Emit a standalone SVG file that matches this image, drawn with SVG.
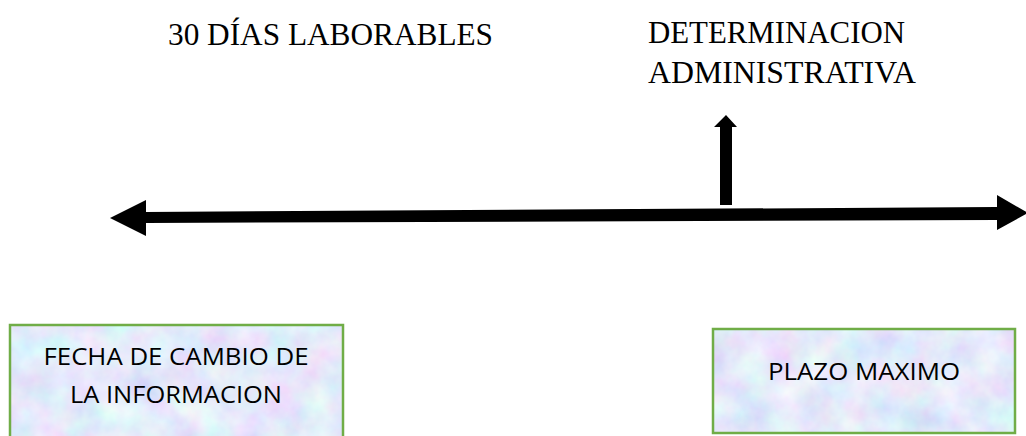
<svg xmlns="http://www.w3.org/2000/svg" width="1026" height="436" viewBox="0 0 1026 436">
  <style>
    .title { font-family: "Liberation Serif", "Times New Roman", serif; font-size: 31.5px; fill: #000; }
    .lbl { font-family: "Open Sans", "Liberation Sans", sans-serif; font-size: 24px; fill: #000; text-anchor: middle; }
    .box { stroke: #70AD47; stroke-width: 2.5; }
  </style>
  <defs>
    <filter id="tex" x="0" y="0" width="100%" height="100%">
      <feTurbulence type="fractalNoise" baseFrequency="0.03" numOctaves="4" seed="7" result="n"/>
      <feColorMatrix in="n" type="matrix" values="0.45 0 0 0 0.55  0 0.45 0 0 0.6  0 0 0.15 0 0.88  0 0 0 0 1"/>
    </filter>
    <clipPath id="c1"><rect x="10" y="325" width="333" height="111"/></clipPath>
    <clipPath id="c2"><rect x="713" y="329" width="302" height="104"/></clipPath>
  </defs>
  <rect width="1026" height="436" fill="#fff"/>

  <text class="title" x="168" y="45" textLength="325" lengthAdjust="spacingAndGlyphs">30 DÍAS LABORABLES</text>
  <text class="title" x="648" y="43" textLength="257" lengthAdjust="spacingAndGlyphs">DETERMINACION</text>
  <text class="title" x="648" y="83" textLength="268" lengthAdjust="spacingAndGlyphs">ADMINISTRATIVA</text>

  <g id="connectors">
    <polygon points="110,218 146,200 146,212 997,207 997,195 1028,213 997,230 997,220 146,223 146,236" fill="#000"/>
    <polygon points="720,205 720,127 714,127 726,115 737,127 732,127 732,205" fill="#000"/>
  </g>

  <g id="node-fecha">
    <g clip-path="url(#c1)"><rect x="10" y="325" width="333" height="111" fill="#CAD8F2" filter="url(#tex)"/></g>
    <rect class="box" x="10" y="325" width="333" height="115" fill="none"/>
    <text class="lbl" x="176" y="365" textLength="265" lengthAdjust="spacingAndGlyphs">FECHA DE CAMBIO DE</text>
    <text class="lbl" x="176" y="403" textLength="212" lengthAdjust="spacingAndGlyphs">LA INFORMACION</text>
  </g>

  <g id="node-plazo">
    <g clip-path="url(#c2)"><rect x="713" y="329" width="302" height="104" fill="#CAD8F2" filter="url(#tex)"/></g>
    <rect class="box" x="713" y="329" width="302" height="104" fill="none"/>
    <text class="lbl" x="864" y="380" textLength="192" lengthAdjust="spacingAndGlyphs">PLAZO MAXIMO</text>
  </g>
</svg>
